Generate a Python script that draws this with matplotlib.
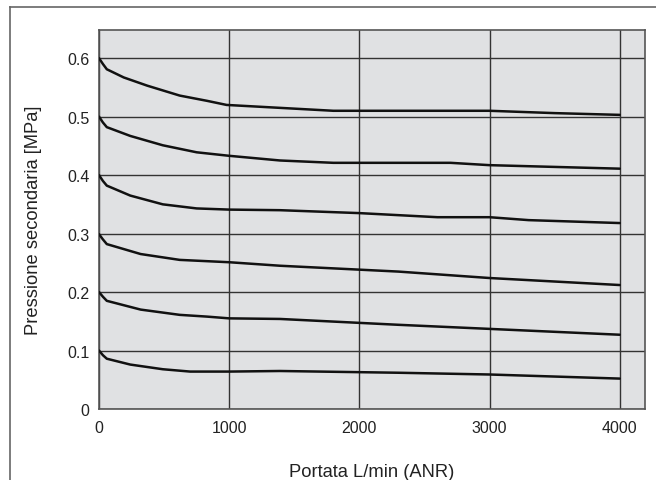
import matplotlib
matplotlib.use("Agg")
import matplotlib.pyplot as plt
from matplotlib.lines import Line2D

plt.rcParams['font.family'] = ['Liberation Sans', 'DejaVu Sans']

# flow rate L/min (ANR) and secondary pressure MPa, one curve per set pressure
flow_06 = [0, 30, 60, 190, 370, 620, 830, 980, 1390, 1800, 2300, 3000, 3500, 4000]
pres_06 = [0.600, 0.590, 0.581, 0.567, 0.553, 0.536, 0.527, 0.520, 0.515, 0.510, 0.510, 0.510, 0.506, 0.503]

flow_05 = [0, 30, 60, 240, 490, 750, 1000, 1390, 1800, 2300, 2700, 3000, 4000]
pres_05 = [0.500, 0.490, 0.482, 0.467, 0.451, 0.439, 0.433, 0.425, 0.421, 0.421, 0.421, 0.417, 0.411]

flow_04 = [0, 30, 60, 240, 490, 750, 1000, 1390, 2000, 2600, 3000, 3300, 4000]
pres_04 = [0.400, 0.390, 0.382, 0.365, 0.350, 0.343, 0.341, 0.340, 0.335, 0.328, 0.328, 0.323, 0.318]

flow_03 = [0, 30, 60, 320, 620, 1000, 1390, 2300, 3000, 4000]
pres_03 = [0.299, 0.290, 0.282, 0.265, 0.255, 0.251, 0.245, 0.235, 0.224, 0.212]

flow_02 = [0, 30, 60, 320, 620, 830, 1000, 1390, 2300, 3000, 4000]
pres_02 = [0.200, 0.192, 0.185, 0.170, 0.161, 0.158, 0.155, 0.154, 0.144, 0.137, 0.127]

flow_01 = [0, 30, 60, 240, 490, 700, 1000, 1390, 2300, 3000, 4000]
pres_01 = [0.100, 0.092, 0.086, 0.076, 0.068, 0.064, 0.064, 0.065, 0.062, 0.059, 0.052]

curves = [(flow_06, pres_06), (flow_05, pres_05), (flow_04, pres_04),
          (flow_03, pres_03), (flow_02, pres_02), (flow_01, pres_01)]

x_ticks = [0, 1000, 2000, 3000, 4000]
y_ticks = [0, 0.1, 0.2, 0.3, 0.4, 0.5, 0.6]
y_labels = ['0', '0.1', '0.2', '0.3', '0.4', '0.5', '0.6']

fig = plt.figure(figsize=(6.56, 4.81), dpi=100)
ax = fig.add_axes([99/656, 1 - 410/481, 546/656, 379.5/481])
ax.set_facecolor('#e0e1e3')

for fx, py in curves:
    ax.plot(fx, py, color='#111111', lw=1.8, solid_joinstyle='round',
            solid_capstyle='round', zorder=3)

ax.set_xlim(0, 4194)
ax.set_ylim(0, 0.649)
ax.set_xticks(x_ticks)
ax.set_yticks(y_ticks)
ax.set_yticklabels(y_labels)
ax.tick_params(length=0, labelsize=11.5, colors='#222222')
ax.tick_params(axis='x', pad=8)
ax.tick_params(axis='y', pad=7)
ax.grid(True, color='#333333', lw=1.0, zorder=1)
ax.set_axisbelow(True)
for s in ax.spines.values():
    s.set_color('#555555')
    s.set_linewidth(1.2)

ax.set_xlabel('Portata L/min (ANR)', fontsize=13.2, labelpad=20, color='#222222')
ax.set_ylabel('Pressione secondaria [MPa]', fontsize=13.2, labelpad=18, color='#222222')

# outer frame (left and top edges only)
fig.add_artist(Line2D([10/656, 10/656], [0, 1 - 8/481], color='#666666', lw=1.2))
fig.add_artist(Line2D([10/656, 1], [1 - 8/481, 1 - 8/481], color='#666666', lw=1.2))

fig.savefig('out.png', dpi=100)
